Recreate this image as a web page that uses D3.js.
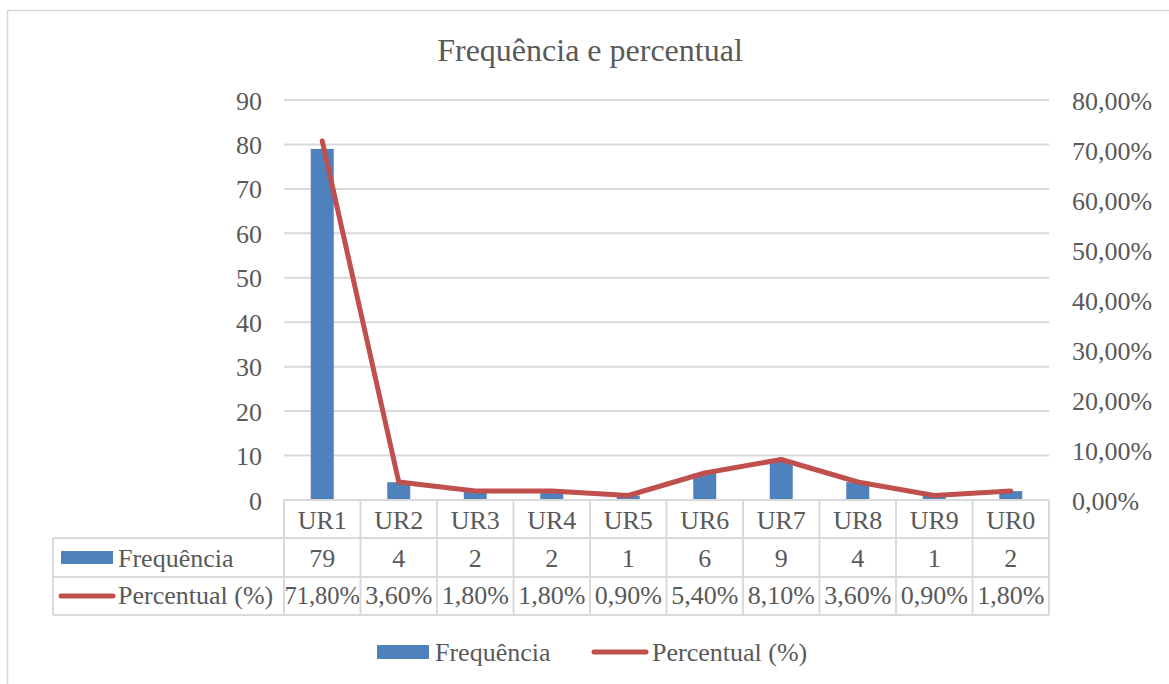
<!DOCTYPE html>
<html>
<head>
<meta charset="utf-8">
<script src="https://cdn.jsdelivr.net/npm/d3@7"></script>
<style>
body { margin: 0; background: #fff; }
</style>
</head>
<body>
<script>
var categories = ["UR1", "UR2", "UR3", "UR4", "UR5", "UR6", "UR7", "UR8", "UR9", "UR0"];
var frequencia = [79, 4, 2, 2, 1, 6, 9, 4, 1, 2];
var percentual = [71.8, 3.6, 1.8, 1.8, 0.9, 5.4, 8.1, 3.6, 0.9, 1.8];
var leftTicks = [0, 10, 20, 30, 40, 50, 60, 70, 80, 90];
var rightTicks = [0, 10, 20, 30, 40, 50, 60, 70, 80];
var seriesNames = ["Frequência", "Percentual (%)"];

var W = 1169, H = 684;
var plot = {left: 284, right: 1049, top: 100, bottom: 500};
var barColor = "#4F81BD", lineColor = "#C0504D", gridColor = "#D9D9D9";
var fontFam = "'Liberation Serif', 'Times New Roman', Tinos, 'DejaVu Serif', serif";
var fs = "26px";

var fmtPct = function (v) { return v.toFixed(2).replace(".", ",") + "%"; };

var svg = d3.select("body").append("svg")
	.attr("width", W)
	.attr("height", H)
	.attr("font-family", fontFam);

// chart frame
svg.append("rect")
	.attr("x", 7.5).attr("y", 10.5)
	.attr("width", W + 10).attr("height", H + 10)
	.attr("fill", "#fff")
	.attr("stroke", gridColor)
	.attr("stroke-width", 1.5);

svg.append("text")
	.attr("x", 590).attr("y", 61)
	.attr("text-anchor", "middle")
	.attr("font-size", "32px")
	.text("Frequência e percentual");

var x = d3.scaleBand().domain(categories).range([plot.left, plot.right]);
var y1 = d3.scaleLinear().domain([0, 90]).range([plot.bottom, plot.top]);
var y2 = d3.scaleLinear().domain([0, 80]).range([plot.bottom, plot.top]);

// gridlines
svg.append("g")
	.selectAll("line")
	.data(leftTicks)
	.enter().append("line")
	.attr("x1", plot.left).attr("x2", plot.right)
	.attr("y1", function (d) { return y1(d); })
	.attr("y2", function (d) { return y1(d); })
	.attr("stroke", gridColor)
	.attr("stroke-width", 2);

// left axis
var axL = svg.append("g")
	.attr("transform", "translate(" + plot.left + ",0)")
	.call(d3.axisLeft(y1).tickValues(leftTicks).tickSize(0).tickPadding(22));
axL.select(".domain").remove();
axL.attr("font-family", fontFam).attr("font-size", 26);
axL.selectAll("text").attr("dy", "0.35em");

// right axis
var axR = svg.append("g")
	.attr("transform", "translate(" + plot.right + ",0)")
	.call(d3.axisRight(y2).tickValues(rightTicks).tickSize(0).tickPadding(23)
		.tickFormat(fmtPct));
axR.select(".domain").remove();
axR.attr("font-family", fontFam).attr("font-size", 26);
axR.selectAll("text").attr("dy", "0.35em");

// bars
var barW = 23;
svg.append("g")
	.selectAll("rect")
	.data(frequencia)
	.enter().append("rect")
	.attr("x", function (d, i) { return x(categories[i]) + x.bandwidth() / 2 - barW / 2; })
	.attr("y", function (d) { return y1(d); })
	.attr("width", barW)
	.attr("height", function (d) { return y1(0) - y1(d); })
	.attr("fill", barColor);

// line
var line = d3.line()
	.x(function (d, i) { return x(categories[i]) + x.bandwidth() / 2; })
	.y(function (d) { return y2(d); });

svg.append("path")
	.datum(percentual)
	.attr("d", line)
	.attr("fill", "none")
	.attr("stroke", lineColor)
	.attr("stroke-width", 5)
	.attr("stroke-linecap", "round")
	.attr("stroke-linejoin", "round");

// data table
var rowY = [500, 538, 577, 615];
var tableLeft = 53;
var tbl = svg.append("g");

tbl.append("line")
	.attr("x1", plot.left).attr("x2", plot.right)
	.attr("y1", rowY[0]).attr("y2", rowY[0])
	.attr("stroke", gridColor).attr("stroke-width", 2);
[1, 2, 3].forEach(function (r) {
	tbl.append("line")
		.attr("x1", tableLeft).attr("x2", plot.right)
		.attr("y1", rowY[r]).attr("y2", rowY[r])
		.attr("stroke", gridColor).attr("stroke-width", 2);
});
tbl.append("line")
	.attr("x1", tableLeft).attr("x2", tableLeft)
	.attr("y1", rowY[1]).attr("y2", rowY[3])
	.attr("stroke", gridColor).attr("stroke-width", 2);
var colEdges = categories.map(function (c) { return x(c); }).concat([plot.right]);
tbl.selectAll("line.col")
	.data(colEdges)
	.enter().append("line")
	.attr("class", "col")
	.attr("x1", function (d) { return d; }).attr("x2", function (d) { return d; })
	.attr("y1", rowY[0]).attr("y2", rowY[3])
	.attr("stroke", gridColor).attr("stroke-width", 2);

var cx = function (c) { return x(c) + x.bandwidth() / 2; };
var rowBase = [529, 567, 604];
tbl.selectAll("text.cat")
	.data(categories)
	.enter().append("text")
	.attr("x", cx).attr("y", rowBase[0])
	.attr("text-anchor", "middle").attr("font-size", fs)
	.text(function (d) { return d; });
tbl.selectAll("text.freq")
	.data(frequencia)
	.enter().append("text")
	.attr("x", function (d, i) { return cx(categories[i]); }).attr("y", rowBase[1])
	.attr("text-anchor", "middle").attr("font-size", fs)
	.text(function (d) { return d; });
tbl.selectAll("text.pct")
	.data(percentual)
	.enter().append("text")
	.attr("class", "pct")
	.attr("x", function (d, i) { return cx(categories[i]); }).attr("y", rowBase[2])
	.attr("text-anchor", "middle").attr("font-size", fs)
	.text(function (d) { return fmtPct(d); });

// row legend keys
tbl.append("rect")
	.attr("x", 61).attr("y", 551).attr("width", 52).attr("height", 13)
	.attr("fill", barColor);
tbl.append("line")
	.attr("x1", 61).attr("x2", 113).attr("y1", 596).attr("y2", 596)
	.attr("stroke", lineColor).attr("stroke-width", 5).attr("stroke-linecap", "round");
tbl.append("text").attr("x", 118).attr("y", rowBase[1]).attr("font-size", fs).text(seriesNames[0]);
tbl.append("text").attr("x", 118).attr("y", rowBase[2]).attr("font-size", fs).text(seriesNames[1]);

// bottom legend
var lg = svg.append("g");
lg.append("rect")
	.attr("x", 377).attr("y", 645).attr("width", 52).attr("height", 14)
	.attr("fill", barColor);
lg.append("text").attr("x", 435).attr("y", 661).attr("font-size", fs).text(seriesNames[0]);
lg.append("line")
	.attr("x1", 594).attr("x2", 646).attr("y1", 652).attr("y2", 652)
	.attr("stroke", lineColor).attr("stroke-width", 5).attr("stroke-linecap", "round");
lg.append("text").attr("x", 652).attr("y", 661).attr("font-size", fs).text(seriesNames[1]);

svg.selectAll("text").attr("fill", "#595959").style("font-family", fontFam);

// squeeze percentage labels that are wider than their cell
tbl.selectAll("text.pct").each(function () {
	var w = this.getComputedTextLength();
	var maxW = x.bandwidth() - 1;
	if (w > maxW) {
		d3.select(this).attr("textLength", maxW).attr("lengthAdjust", "spacingAndGlyphs");
	}
});
</script>
</body>
</html>
